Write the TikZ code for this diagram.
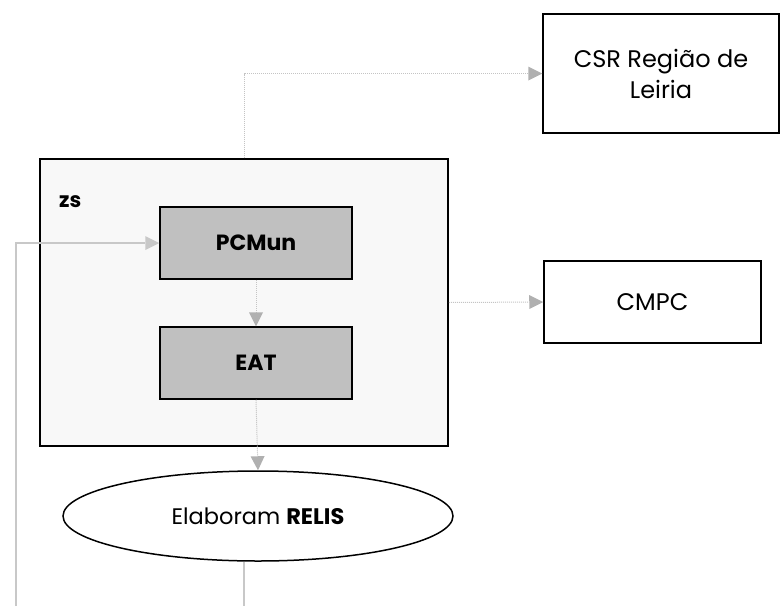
\documentclass[tikz,border=0pt]{standalone}
\usepackage{fontspec}
\setmainfont{Poppins}
\usetikzlibrary{arrows.meta,shapes.geometric}
\definecolor{boxgray}{HTML}{C0C0C0}
\definecolor{panel}{HTML}{F8F8F8}
\definecolor{linegray}{HTML}{C8C8C8}
\definecolor{dotgray}{HTML}{C4C4C4}
\definecolor{tipgray}{HTML}{B0B0B0}
\tikzset{
  plainbox/.style={draw=black, line width=1.5pt, fill=white, inner sep=0pt, align=center,
    font=\fontsize{24}{31}\selectfont},
  greybox/.style={draw=black, line width=1.5pt, fill=boxgray, inner sep=0pt,
    minimum width=192pt, minimum height=72pt, font=\bfseries\fontsize{22}{25}\selectfont},
  dotarrow/.style={draw=dotgray, line width=1pt, densely dotted,
    -{Triangle[length=14pt,width=14pt,color=tipgray,fill=tipgray,line width=0pt]}},
  solidarrow/.style={draw=linegray, line width=1.5pt,
    -{Triangle[length=14pt,width=14pt,color=linegray,fill=linegray,line width=0pt]}},
  solidline/.style={draw=linegray, line width=1.5pt}
}
\begin{document}
\begin{tikzpicture}[x=1pt,y=-1pt]
\useasboundingbox (0,0) rectangle (782,606);
\node[draw=black, line width=1.5pt, fill=panel, minimum width=408pt, minimum height=287pt, inner sep=0pt] (outer) at (244,302.5) {};
\node[font=\bfseries\fontsize{21}{24}\selectfont, anchor=base west, inner sep=0pt] (zs) at (59,207) {zs};
\node[greybox] (pcmun) at (256,243) {PCMun};
\node[greybox] (eat) at (256,363) {EAT};
\node[plainbox, minimum width=236pt, minimum height=119pt] (csr) at (661,73.5) {CSR Região de\\Leiria};
\node[plainbox, minimum width=217pt, minimum height=82pt] (cmpc) at (652.5,302) {CMPC};
\node[ellipse, draw=black, line width=1.5pt, fill=white, minimum width=390pt, minimum height=90pt, inner sep=0pt,
  font=\fontsize{22.5}{26}\selectfont] (relis) at (258,516) {Elaboram \textbf{RELIS}};
\coordinate (b1) at (244,606);
\coordinate (b2) at (16,606);
\draw[dotarrow] (outer.north) |- (csr.west);
\draw[dotarrow] (outer.east) -- (cmpc.west);
\draw[dotarrow] (pcmun.south) -- (eat.north);
\draw[dotarrow] (eat.south) -- (relis.north);
\draw[solidline] (relis.south -| b1) -- (b1);
\draw[solidarrow] (b2) |- (pcmun.west);
\end{tikzpicture}
\end{document}
